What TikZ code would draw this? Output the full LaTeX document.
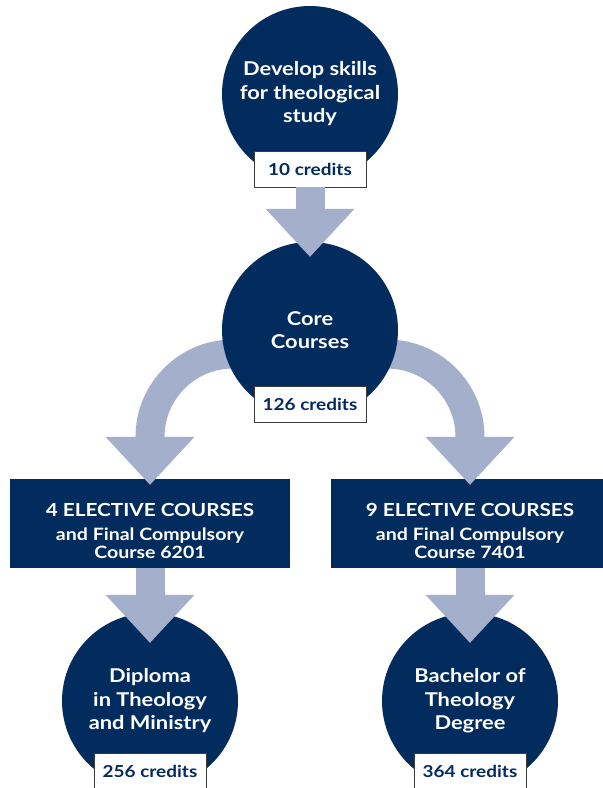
\documentclass[tikz,border=0pt]{standalone}
\usepackage{fontspec}
\setmainfont{Lato}[FakeStretch=1.15]
\usetikzlibrary{arrows.meta,backgrounds}
\definecolor{navy}{RGB}{3,44,94}
\definecolor{pale}{RGB}{164,175,204}
\definecolor{rim}{RGB}{60,60,60}

\begin{document}
\begin{tikzpicture}[x=1bp,y=1bp]
    \tikzstyle{disc}=[circle,fill=navy,text=white,minimum size=176bp,inner sep=0pt,align=center,font=\fontsize{19bp}{23.5bp}\selectfont\bfseries];
    \tikzstyle{credit}=[draw=rim,line width=0.8bp,fill=white,text=navy,minimum width=112bp,minimum height=36bp,inner sep=0pt,font=\fontsize{16.5bp}{20bp}\selectfont\bfseries];
    \tikzstyle{elective}=[fill=navy,text=white,minimum width=279bp,minimum height=89bp,inner sep=0pt,align=center,text height=69bp,text depth=0pt,font=\fontsize{17bp}{18bp}\selectfont\bfseries];
    \tikzstyle{flow}=[draw=pale,line width=29bp,-{Triangle[width=89bp,length=48bp,line width=0pt]}];

    \useasboundingbox (0,0) rectangle (603,-788);

    \node at (310, -94)  (dev)  [disc] {Develop skills\\for theological\\study};
    \node at (310, -169) (c10)  [credit] {10 credits};
    \node at (310, -330) (core) [disc] {Core\\Courses};
    \node at (310, -404.5) (c126) [credit] {126 credits};
    \node at (150, -701) (dipl) [disc] {Diploma\\in Theology\\and Ministry};
    \node at (150, -771) (c256) [credit] {256 credits};
    \node at (470, -701) (bach) [disc] {Bachelor of\\Theology\\Degree};
    \node at (470, -771) (c364) [credit] {364 credits};

    \begin{pgfonlayer}{background}
    \node at (150, -523.5) (el4) [elective] {{\fontsize{18bp}{20bp}\selectfont 4 ELECTIVE COURSES}\\[6bp]and Final Compulsory\\Course 6201};
    \node at (470, -523.5) (el9) [elective] {{\fontsize{18bp}{20bp}\selectfont 9 ELECTIVE COURSES}\\[6bp]and Final Compulsory\\Course 7401};
    \draw[flow] ([xshift=-77bp,yshift=-24bp]core.center) arc[start angle=90,end angle=180,radius=83bp] -- ([yshift=-6bp]el4.north);
    \draw[flow] ([xshift=77bp,yshift=-24bp]core.center) arc[start angle=90,end angle=0,radius=83bp] -- ([yshift=-6bp]el9.north);
    \end{pgfonlayer}

    \draw[flow,shorten >=-15bp] (c10) -- (core);
    \draw[flow,shorten >=-30bp] (el4) -- (dipl);
    \draw[flow,shorten >=-30bp] (el9) -- (bach);
\end{tikzpicture}
\end{document}
